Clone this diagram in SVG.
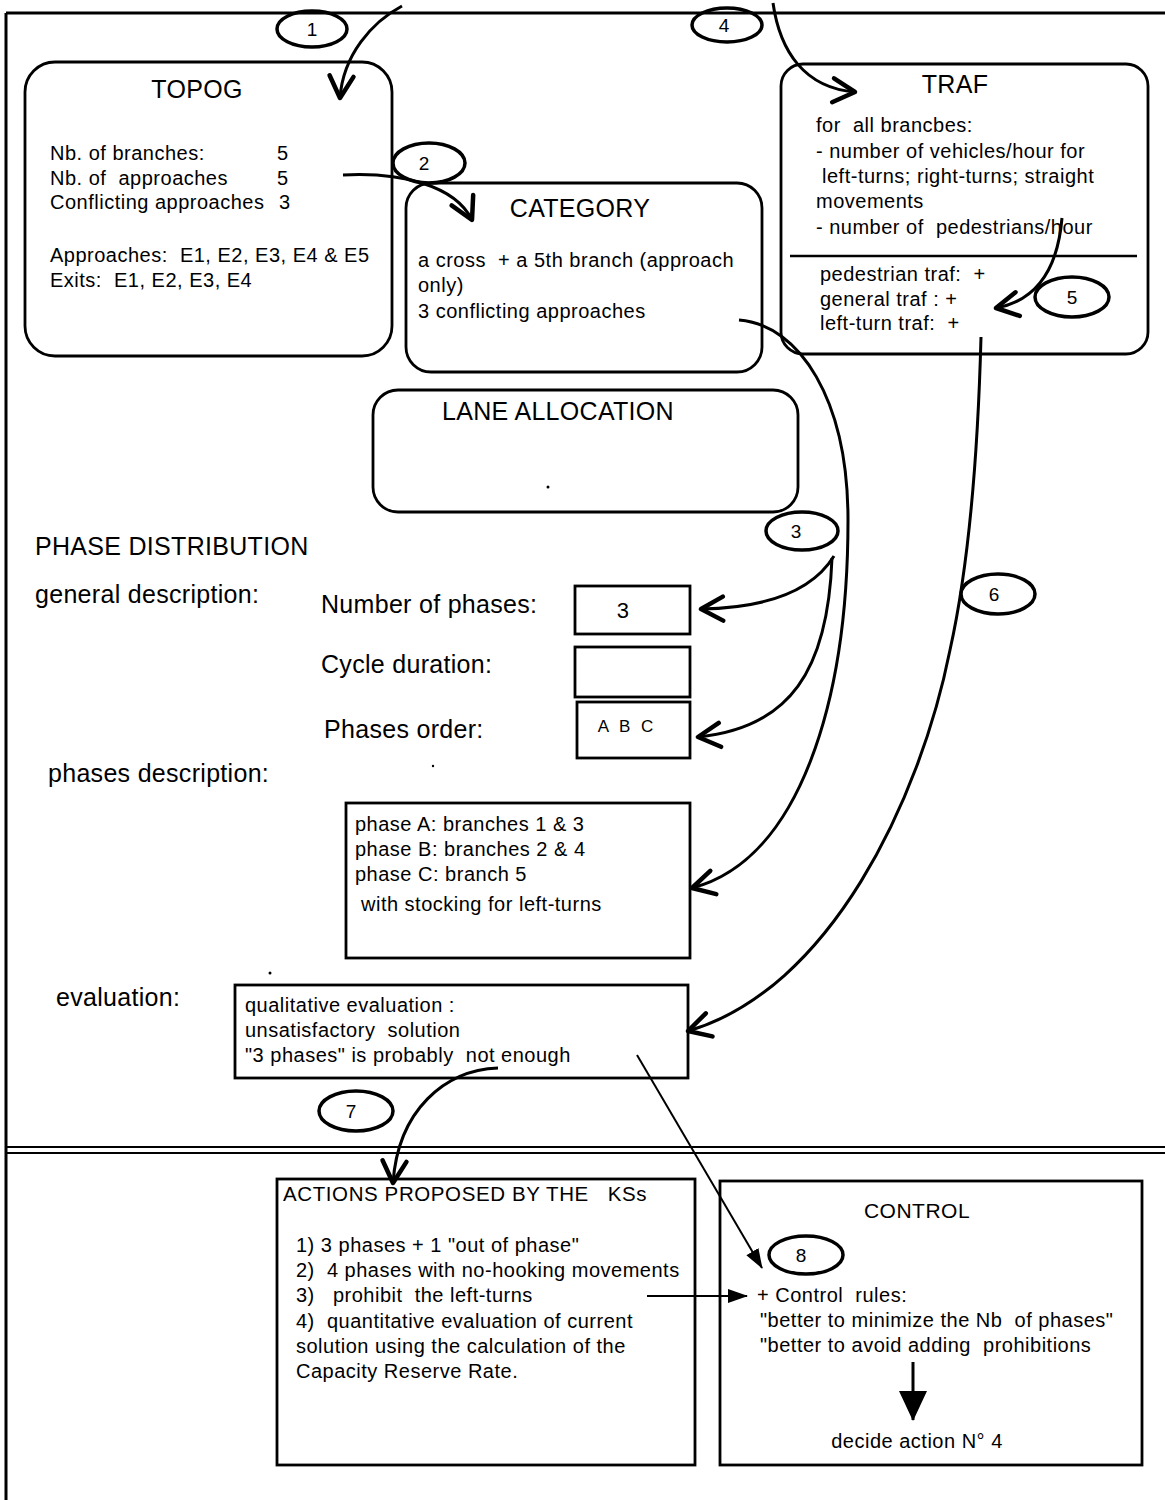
<svg xmlns="http://www.w3.org/2000/svg" width="1165" height="1500" viewBox="0 0 1165 1500">
<defs>
<style>
.t{font-family:"Liberation Sans",Arial,sans-serif;fill:#000;font-size:20px;letter-spacing:0.5px;white-space:pre}
.h{font-size:25px;letter-spacing:0.3px}
.n{font-size:19px;text-anchor:middle;letter-spacing:0}
.mid{text-anchor:middle}
.box{fill:none;stroke:#000;stroke-width:2.8}
.ell{fill:none;stroke:#000;stroke-width:3.5}
.cv{fill:none;stroke:#000;stroke-width:3;marker-end:url(#v)}
.ln{fill:none;stroke:#000;stroke-width:2;marker-end:url(#tri)}
.frame{fill:none;stroke:#000;stroke-width:3}
</style>
<marker id="v" viewBox="0 0 30 30" refX="27" refY="15" markerWidth="30" markerHeight="30" markerUnits="userSpaceOnUse" orient="auto">
<path d="M5,3 L27,15 L5,27" fill="none" stroke="#000" stroke-width="4.5" stroke-linecap="round" stroke-linejoin="round"/>
</marker>
<marker id="tri" viewBox="0 0 20 20" refX="19" refY="10" markerWidth="20" markerHeight="20" markerUnits="userSpaceOnUse" orient="auto">
<path d="M0,3 L20,10 L0,17 z" fill="#000"/>
</marker>
<marker id="big" viewBox="0 0 30 30" refX="29" refY="15" markerWidth="30" markerHeight="30" markerUnits="userSpaceOnUse" orient="auto">
<path d="M0,1 L30,15 L0,29 z" fill="#000"/>
</marker>
</defs>

<g id="frame">
<path class="frame" d="M6 13 L1165 13 M6 13 L6 1500"/>
<path d="M6 1147 L1165 1147 M6 1153 L1165 1153" fill="none" stroke="#000" stroke-width="2"/>
</g>

<g id="topog">
<rect class="box" x="25" y="62" width="367" height="294" rx="30"/>
<text class="t h mid" x="197" y="98">TOPOG</text>
<text class="t" x="50" y="160">Nb. of branches:</text>
<text class="t" x="277" y="160">5</text>
<text class="t" x="50" y="185">Nb. of  approaches</text>
<text class="t" x="277" y="185">5</text>
<text class="t" x="50" y="209">Conflicting approaches</text>
<text class="t" x="279" y="209">3</text>
<text class="t" x="50" y="262">Approaches:  E1, E2, E3, E4 &amp; E5</text>
<text class="t" x="50" y="287">Exits:  E1, E2, E3, E4</text>
</g>

<g id="category">
<rect class="box" x="406" y="183" width="356" height="189" rx="25"/>
<text class="t h mid" x="580" y="217">CATEGORY</text>
<text class="t" x="418" y="267">a cross  + a 5th branch (approach</text>
<text class="t" x="418" y="292">only)</text>
<text class="t" x="418" y="318">3 conflicting approaches</text>
</g>

<g id="traf">
<rect class="box" x="781" y="64" width="367" height="290" rx="22"/>
<text class="t h mid" x="955" y="93">TRAF</text>
<text class="t" x="816" y="132">for  all brancbes:</text>
<text class="t" x="816" y="158">- number of vehicles/hour for</text>
<text class="t" x="816" y="183"> left-turns; right-turns; straight</text>
<text class="t" x="816" y="208">movements</text>
<text class="t" x="816" y="234">- number of  pedestrians/hour</text>
<path d="M790 256 L1137 256" stroke="#000" stroke-width="2.5"/>
<text class="t" x="820" y="281">pedestrian traf:  +</text>
<text class="t" x="820" y="306">general traf : +</text>
<text class="t" x="820" y="330">left-turn traf:  +</text>
</g>

<g id="lane">
<rect class="box" x="373" y="390" width="425" height="122" rx="25"/>
<text class="t h mid" x="558" y="420">LANE ALLOCATION</text>
<circle cx="548" cy="487" r="1.5" fill="#000"/>
</g>

<g id="phase-distribution">
<text class="t h" x="35" y="555">PHASE DISTRIBUTION</text>
<text class="t h" x="35" y="603">general description:</text>
<text class="t h" x="321" y="613">Number of phases:</text>
<text class="t h" x="321" y="673">Cycle duration:</text>
<text class="t h" x="324" y="738">Phases order:</text>
<text class="t h" x="48" y="782">phases description:</text>
<text class="t h" x="56" y="1006">evaluation:</text>
<circle cx="433" cy="766" r="1.2" fill="#000"/>
<circle cx="270" cy="973" r="1.5" fill="#000"/>
</g>

<g id="nb-phases">
<rect class="box" x="575" y="586" width="115" height="48"/>
<text class="t mid" style="font-size:22px" x="623" y="618">3</text>
</g>
<g id="cycle">
<rect class="box" x="575" y="647" width="115" height="50"/>
</g>
<g id="order">
<rect class="box" x="577" y="702" width="113" height="56"/>
<text class="t mid" style="font-size:17px;letter-spacing:3px" x="627" y="732">A B C</text>
</g>

<g id="phases">
<rect class="box" x="346" y="803" width="344" height="155"/>
<text class="t" x="355" y="831">phase A: branches 1 &amp; 3</text>
<text class="t" x="355" y="856">phase B: branches 2 &amp; 4</text>
<text class="t" x="355" y="881">phase C: branch 5</text>
<text class="t" x="361" y="911">with stocking for left-turns</text>
</g>

<g id="evaluation">
<rect class="box" x="235" y="985" width="453" height="93"/>
<text class="t" x="245" y="1012">qualitative evaluation :</text>
<text class="t" x="245" y="1037">unsatisfactory  solution</text>
<text class="t" x="245" y="1062">"3 phases" is probably  not enough</text>
</g>

<g id="actions">
<rect class="box" x="277" y="1179" width="418" height="286"/>
<text class="t" style="font-size:20.5px;letter-spacing:0.6px" x="283" y="1201">ACTIONS PROPOSED BY THE   KSs</text>
<text class="t" x="296" y="1252">1) 3 phases + 1 "out of phase"</text>
<text class="t" x="296" y="1277">2)  4 phases with no-hooking movements</text>
<text class="t" x="296" y="1302">3)   prohibit  the left-turns</text>
<text class="t" x="296" y="1328">4)  quantitative evaluation of current</text>
<text class="t" x="296" y="1353">solution using the calculation of the</text>
<text class="t" x="296" y="1378">Capacity Reserve Rate.</text>
</g>

<g id="control">
<rect class="box" x="720" y="1181" width="422" height="284"/>
<text class="t mid" style="font-size:21px" x="917" y="1218">CONTROL</text>
<text class="t" x="757" y="1302">+ Control  rules:</text>
<text class="t" x="760" y="1327">"better to minimize the Nb  of phases"</text>
<text class="t" x="760" y="1352">"better to avoid adding  prohibitions</text>
<path d="M913 1362 L913 1420" stroke="#000" stroke-width="3" marker-end="url(#big)"/>
<text class="t mid" x="917" y="1448">decide action N° 4</text>
</g>

<g id="labels">
<ellipse class="ell" cx="312" cy="29" rx="35" ry="18"/><text class="t n" x="312" y="36">1</text>
<ellipse class="ell" cx="429" cy="163" rx="36" ry="20"/><text class="t n" x="424" y="170">2</text>
<ellipse class="ell" cx="802" cy="531" rx="36" ry="19"/><text class="t n" x="796" y="538">3</text>
<ellipse class="ell" cx="727" cy="25" rx="35" ry="17"/><text class="t n" x="724" y="32">4</text>
<ellipse class="ell" cx="1072" cy="297" rx="37" ry="20"/><text class="t n" x="1072" y="304">5</text>
<ellipse class="ell" cx="998" cy="594" rx="37" ry="20"/><text class="t n" x="994" y="601">6</text>
<ellipse class="ell" cx="356" cy="1111" rx="37" ry="20"/><text class="t n" x="351" y="1118">7</text>
<ellipse class="ell" cx="806" cy="1255" rx="37" ry="19"/><text class="t n" x="801" y="1262">8</text>
</g>

<g id="connectors">
<path class="cv" d="M402 6 C372 22 343 55 340 98"/>
<path class="cv" d="M343 175 C400 172 455 185 472 220"/>
<path class="cv" d="M773 3 C780 52 805 88 855 92"/>
<path class="cv" d="M1062 218 C1058 265 1040 300 996 308"/>
<path class="cv" d="M739 320 C800 325 848 400 848 520 C848 700 800 860 692 888"/>
<path class="cv" d="M834 556 C810 595 760 608 701 609"/>
<path class="cv" d="M832 558 C828 670 790 728 698 737"/>
<path class="cv" d="M981 337 C978 450 970 560 950 650 C920 800 830 990 688 1031"/>
<path class="cv" d="M498 1068 C445 1070 398 1110 393 1183"/>
<path class="ln" d="M637 1055 L762 1268"/>
<path class="ln" d="M647 1296 L747 1296"/>
</g>
</svg>
